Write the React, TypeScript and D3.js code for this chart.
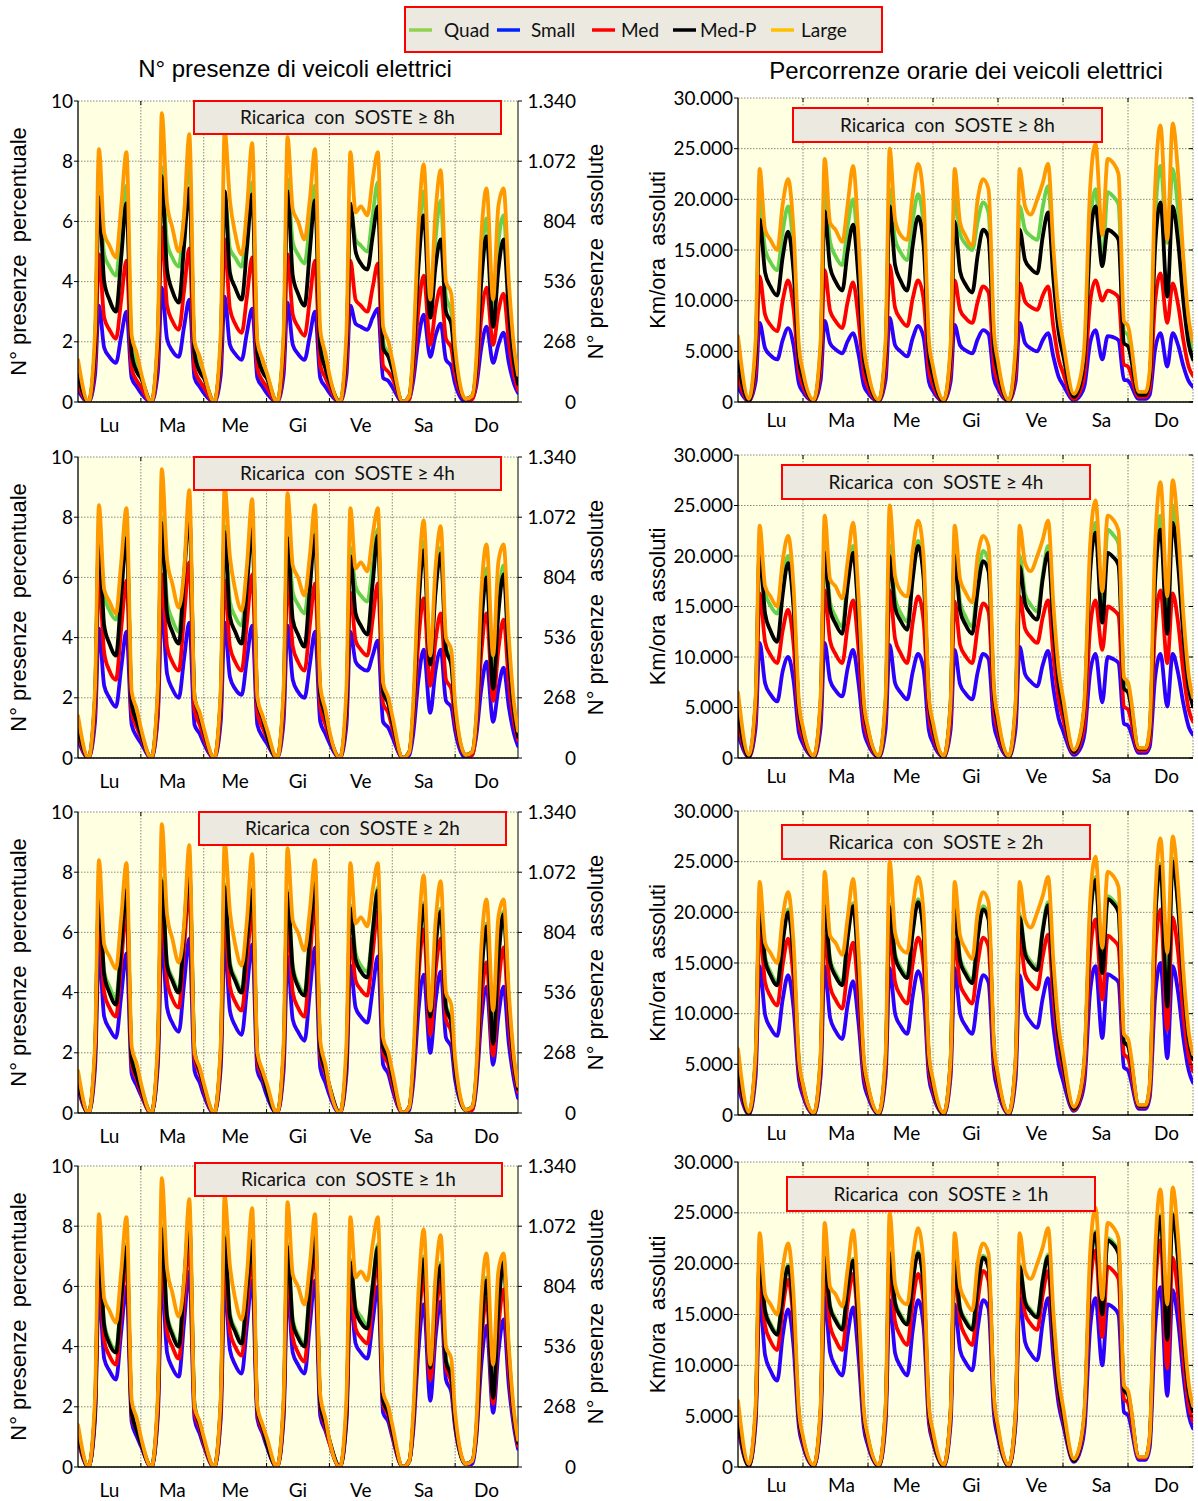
import React from "react";
import * as d3 from "d3";

// hours of the day at which each series was read; one extra value closes Sunday (168h)
const HOURS = [0, 4, 6.5, 8, 10, 12, 14.5, 16.5, 18.5, 20.5, 22.5];
const DAYS = ["Lu", "Ma", "Me", "Gi", "Ve", "Sa", "Do"];
const SERIES = ["Quad", "Small", "Med", "Med-P", "Large"];
const SOSTE = ["8h", "4h", "2h", "1h"];
const PRES_TICKS = [0, 2, 4, 6, 8, 10];
const PRES_ABS_TICKS = [0, 268, 536, 804, 1072, 1340];
const KM_TICKS = [0, 5, 10, 15, 20, 25, 30]; // thousands of km

const LINE_COLORS = ["#66d24b", "#2c00ff", "#ff0000", "#000000", "#ff9900"];
const LEGEND_COLORS = ["#92d050", "#0022ff", "#ff0000", "#000000", "#ffc000"];

// ---- N° presenze (percent) ----
const P_LARGE = [
  1.4, 0.0, 2.3, 8.4, 5.6, 5.2, 4.8, 6.5, 8.3, 2.2, 1.6,
  1.0, 0.0, 2.4, 9.6, 6.6, 5.8, 5.0, 6.2, 8.9, 2.0, 1.5,
  1.0, 0.0, 2.3, 9.0, 6.7, 5.6, 4.9, 6.4, 8.6, 2.0, 1.4,
  1.0, 0.0, 2.3, 8.8, 6.4, 6.0, 5.4, 6.7, 8.4, 2.4, 1.6,
  0.9, 0.0, 2.3, 8.3, 6.3, 6.5, 6.2, 7.4, 8.3, 2.5, 2.0,
  1.4, 0.0, 0.2, 1.8, 5.8, 7.9, 3.4, 6.3, 7.7, 4.0, 3.6,
  1.8, 0.1, 0.2, 1.3, 5.5, 7.1, 3.4, 6.5, 7.1, 4.0, 1.8,
  0.9,
];

const P8_QUAD = [
  1.1, 0.0, 1.9, 7.0, 4.9, 4.5, 4.2, 5.7, 7.2, 1.8, 1.3,
  0.9, 0.0, 2.1, 7.8, 5.3, 4.8, 4.5, 6.2, 8.0, 1.7, 1.2,
  0.9, 0.0, 1.9, 7.0, 5.1, 4.8, 4.5, 5.9, 7.3, 1.6, 1.1,
  0.9, 0.0, 2.0, 7.4, 5.3, 4.9, 4.6, 5.9, 7.2, 1.9, 1.3,
  0.8, 0.0, 1.8, 6.5, 5.4, 5.2, 5.0, 6.2, 7.3, 2.0, 1.6,
  1.2, 0.0, 0.2, 1.6, 5.1, 7.0, 3.0, 5.4, 6.7, 3.5, 3.0,
  1.5, 0.1, 0.2, 1.1, 4.5, 6.1, 3.0, 5.3, 6.2, 3.4, 1.5,
  0.7,
];
const P8_SMALL = [
  0.4, 0.0, 0.9, 3.2, 1.8, 1.5, 1.3, 2.2, 3.0, 0.8, 0.5,
  0.3, 0.0, 1.0, 3.8, 2.1, 1.7, 1.5, 2.5, 3.4, 0.8, 0.5,
  0.3, 0.0, 0.9, 3.5, 1.9, 1.6, 1.4, 2.3, 3.1, 0.8, 0.5,
  0.3, 0.0, 0.9, 3.3, 1.9, 1.6, 1.4, 2.2, 3.0, 0.8, 0.5,
  0.3, 0.0, 0.9, 3.2, 2.6, 2.5, 2.4, 2.8, 3.1, 0.8, 0.7,
  0.5, 0.0, 0.1, 0.7, 2.1, 2.9, 1.5, 2.2, 2.6, 1.4, 1.2,
  0.6, 0.0, 0.1, 0.5, 1.8, 2.5, 1.3, 1.9, 2.3, 1.3, 0.6,
  0.3,
];
const P8_MED = [
  0.6, 0.0, 1.3, 4.9, 2.8, 2.4, 2.1, 3.4, 4.7, 1.1, 0.7,
  0.5, 0.0, 1.5, 5.8, 3.2, 2.7, 2.4, 3.7, 5.1, 1.1, 0.7,
  0.5, 0.0, 1.4, 5.4, 3.1, 2.6, 2.3, 3.5, 4.8, 1.1, 0.7,
  0.5, 0.0, 1.3, 4.9, 2.9, 2.5, 2.2, 3.4, 4.7, 1.2, 0.8,
  0.5, 0.0, 1.3, 4.7, 3.4, 3.2, 3.0, 3.8, 4.6, 1.2, 1.0,
  0.8, 0.0, 0.1, 1.0, 3.1, 4.2, 1.9, 3.1, 3.8, 2.1, 1.8,
  0.9, 0.1, 0.1, 0.7, 2.8, 3.8, 1.9, 3.0, 3.6, 2.0, 0.9,
  0.4,
];
const P8_MEDP = [
  0.9, 0.0, 1.8, 6.8, 4.0, 3.4, 3.0, 4.8, 6.6, 1.6, 1.0,
  0.8, 0.0, 2.0, 7.5, 4.4, 3.7, 3.3, 5.2, 7.1, 1.6, 1.0,
  0.8, 0.0, 1.9, 7.0, 4.3, 3.8, 3.4, 5.1, 6.9, 1.6, 1.0,
  0.8, 0.0, 1.9, 7.0, 4.2, 3.6, 3.2, 5.0, 6.7, 1.8, 1.1,
  0.7, 0.0, 1.8, 6.6, 5.0, 4.6, 4.4, 5.5, 6.5, 1.8, 1.5,
  1.1, 0.0, 0.2, 1.4, 4.5, 6.2, 2.8, 4.5, 5.4, 3.0, 2.6,
  1.3, 0.1, 0.2, 1.0, 4.0, 5.5, 2.5, 4.4, 5.4, 3.0, 1.3,
  0.6,
];

const P4_QUAD = [
  1.2, 0.0, 2.1, 7.6, 5.4, 4.9, 4.6, 6.1, 7.6, 1.9, 1.3,
  0.9, 0.0, 2.2, 8.0, 5.2, 4.6, 4.2, 6.2, 8.2, 2.0, 1.4,
  0.9, 0.0, 2.1, 7.7, 5.2, 4.7, 4.4, 6.1, 7.8, 1.9, 1.3,
  0.9, 0.0, 2.1, 7.7, 5.5, 5.1, 4.8, 6.2, 7.7, 2.2, 1.5,
  0.8, 0.0, 1.9, 7.0, 5.7, 5.4, 5.2, 6.4, 7.6, 2.3, 1.8,
  1.2, 0.0, 0.2, 1.6, 5.3, 7.2, 3.2, 5.7, 7.0, 3.7, 3.2,
  1.6, 0.1, 0.2, 1.2, 4.6, 6.3, 2.5, 5.1, 6.4, 3.5, 1.6,
  0.8,
];
const P4_SMALL = [
  0.6, 0.0, 1.2, 4.3, 2.4, 2.0, 1.7, 3.0, 4.2, 1.1, 0.7,
  0.5, 0.0, 1.4, 5.0, 2.8, 2.3, 2.0, 3.3, 4.5, 1.1, 0.8,
  0.5, 0.0, 1.2, 4.5, 2.7, 2.3, 2.1, 3.3, 4.4, 1.1, 0.7,
  0.5, 0.0, 1.2, 4.4, 2.6, 2.2, 2.0, 3.1, 4.2, 1.2, 0.8,
  0.5, 0.0, 1.1, 4.2, 3.2, 3.0, 2.9, 3.4, 3.9, 1.2, 1.0,
  0.7, 0.0, 0.1, 0.8, 2.6, 3.6, 1.5, 2.9, 3.6, 1.9, 1.7,
  0.9, 0.0, 0.1, 0.7, 2.3, 3.2, 1.2, 2.3, 3.0, 1.7, 0.8,
  0.4,
];
const P4_MED = [
  0.8, 0.0, 1.6, 6.0, 3.5, 2.9, 2.6, 4.3, 5.9, 1.5, 1.0,
  0.7, 0.0, 1.6, 6.1, 3.7, 3.2, 2.9, 4.7, 6.5, 1.6, 1.1,
  0.7, 0.0, 1.6, 5.9, 3.7, 3.2, 2.9, 4.5, 6.1, 1.5, 1.0,
  0.7, 0.0, 1.6, 6.1, 3.7, 3.2, 2.9, 4.4, 5.8, 1.7, 1.1,
  0.7, 0.0, 1.5, 5.5, 3.9, 3.6, 3.4, 4.6, 5.8, 1.8, 1.5,
  1.0, 0.0, 0.2, 1.2, 3.9, 5.3, 2.4, 3.9, 4.8, 2.6, 2.3,
  1.2, 0.1, 0.1, 0.9, 3.5, 4.8, 1.9, 3.6, 4.6, 2.5, 1.2,
  0.6,
];
const P4_MEDP = [
  1.0, 0.0, 2.0, 7.3, 4.4, 3.8, 3.4, 5.4, 7.3, 1.8, 1.2,
  0.8, 0.0, 2.1, 7.8, 4.8, 4.2, 3.8, 6.0, 8.1, 2.0, 1.4,
  0.9, 0.0, 2.0, 7.5, 4.7, 4.2, 3.8, 5.7, 7.6, 1.9, 1.3,
  0.8, 0.0, 2.0, 7.3, 4.6, 4.1, 3.7, 5.6, 7.4, 2.1, 1.4,
  0.8, 0.0, 1.8, 6.7, 4.8, 4.4, 4.1, 5.8, 7.4, 2.2, 1.8,
  1.2, 0.0, 0.2, 1.5, 5.0, 6.9, 3.1, 5.5, 6.8, 3.6, 3.1,
  1.5, 0.1, 0.2, 1.1, 4.4, 6.0, 2.3, 4.8, 6.1, 3.3, 1.5,
  0.7,
];

const P2_QUAD = [
  1.2, 0.0, 2.0, 7.4, 4.7, 4.2, 3.8, 5.7, 7.5, 1.9, 1.3,
  0.9, 0.0, 2.1, 7.8, 5.0, 4.5, 4.1, 6.2, 8.2, 2.1, 1.4,
  0.9, 0.0, 2.1, 7.6, 5.0, 4.5, 4.1, 5.8, 7.5, 1.9, 1.3,
  0.8, 0.0, 2.0, 7.4, 4.9, 4.3, 4.0, 5.9, 7.8, 2.2, 1.5,
  0.9, 0.0, 1.9, 6.9, 5.3, 4.9, 4.7, 6.1, 7.5, 2.3, 1.8,
  1.2, 0.0, 0.2, 1.5, 5.1, 7.0, 3.3, 5.6, 6.8, 3.6, 3.1,
  1.5, 0.1, 0.2, 1.2, 4.6, 6.3, 2.4, 5.2, 6.7, 3.7, 1.7,
  0.8,
];
const P2_SMALL = [
  0.8, 0.0, 1.5, 5.4, 3.2, 2.8, 2.5, 3.9, 5.3, 1.3, 0.9,
  0.6, 0.0, 1.6, 5.8, 3.5, 3.0, 2.7, 4.3, 5.8, 1.4, 1.0,
  0.6, 0.0, 1.5, 5.7, 3.4, 2.9, 2.6, 4.1, 5.6, 1.4, 1.0,
  0.6, 0.0, 1.4, 5.2, 3.1, 2.7, 2.4, 4.0, 5.5, 1.5, 1.0,
  0.6, 0.0, 1.3, 4.9, 3.5, 3.2, 3.0, 4.1, 5.2, 1.6, 1.3,
  0.8, 0.0, 0.1, 1.0, 3.4, 4.6, 2.0, 3.7, 4.7, 2.5, 2.2,
  1.1, 0.1, 0.1, 0.8, 3.1, 4.2, 1.6, 3.2, 4.2, 2.3, 1.1,
  0.5,
];
const P2_MED = [
  1.0, 0.0, 1.8, 6.5, 4.0, 3.5, 3.2, 5.0, 6.7, 1.6, 1.1,
  0.7, 0.0, 1.9, 6.9, 4.4, 3.8, 3.5, 5.5, 7.4, 1.8, 1.3,
  0.8, 0.0, 1.8, 6.6, 4.2, 3.7, 3.4, 5.0, 6.7, 1.7, 1.2,
  0.8, 0.0, 1.7, 6.4, 4.0, 3.5, 3.2, 5.1, 7.0, 1.9, 1.3,
  0.8, 0.0, 1.6, 5.8, 4.4, 4.1, 3.9, 5.3, 6.7, 2.0, 1.6,
  1.0, 0.0, 0.2, 1.3, 4.5, 6.1, 2.6, 4.7, 5.8, 3.1, 2.7,
  1.4, 0.1, 0.1, 1.0, 3.7, 5.0, 1.9, 4.2, 5.5, 3.0, 1.4,
  0.7,
];
const P2_MEDP = [
  1.1, 0.0, 2.0, 7.3, 4.6, 4.0, 3.6, 5.5, 7.4, 1.8, 1.2,
  0.8, 0.0, 2.1, 7.7, 4.9, 4.4, 4.0, 6.0, 8.1, 2.0, 1.4,
  0.9, 0.0, 2.0, 7.5, 4.9, 4.4, 4.0, 5.7, 7.4, 1.9, 1.3,
  0.8, 0.0, 2.0, 7.3, 4.8, 4.2, 3.9, 5.8, 7.7, 2.1, 1.4,
  0.9, 0.0, 1.8, 6.8, 5.1, 4.7, 4.5, 6.0, 7.4, 2.2, 1.8,
  1.2, 0.0, 0.2, 1.5, 5.0, 6.9, 3.2, 5.5, 6.7, 3.5, 3.0,
  1.5, 0.1, 0.2, 1.1, 4.5, 6.2, 2.3, 5.1, 6.6, 3.6, 1.6,
  0.8,
];

const P1_QUAD = [
  1.2, 0.0, 2.0, 7.3, 4.8, 4.2, 3.9, 5.7, 7.4, 1.9, 1.3,
  0.9, 0.0, 2.2, 8.0, 5.1, 4.5, 4.1, 6.2, 8.2, 2.1, 1.4,
  0.9, 0.0, 2.1, 7.7, 5.1, 4.6, 4.2, 5.9, 7.6, 1.9, 1.3,
  0.8, 0.0, 2.0, 7.4, 4.9, 4.4, 4.1, 6.0, 7.9, 2.2, 1.5,
  0.9, 0.0, 1.9, 6.9, 5.3, 5.0, 4.7, 6.1, 7.4, 2.3, 1.8,
  1.2, 0.0, 0.2, 1.5, 5.1, 7.0, 3.4, 5.6, 6.8, 3.6, 3.1,
  1.5, 0.1, 0.2, 1.2, 4.6, 6.3, 2.4, 5.3, 6.9, 3.8, 1.7,
  0.8,
];
const P1_SMALL = [
  0.9, 0.0, 1.6, 5.9, 3.6, 3.2, 2.9, 4.5, 6.0, 1.5, 1.0,
  0.7, 0.0, 1.7, 6.3, 3.8, 3.3, 3.0, 4.8, 6.5, 1.6, 1.1,
  0.7, 0.0, 1.6, 6.1, 3.9, 3.4, 3.1, 4.7, 6.2, 1.6, 1.1,
  0.7, 0.0, 1.6, 5.9, 3.8, 3.4, 3.1, 4.7, 6.2, 1.7, 1.2,
  0.8, 0.0, 1.5, 5.6, 4.1, 3.8, 3.6, 4.8, 6.0, 1.8, 1.5,
  1.0, 0.0, 0.2, 1.2, 3.9, 5.4, 2.2, 4.3, 5.5, 2.9, 2.5,
  1.3, 0.1, 0.1, 0.9, 3.4, 4.7, 1.8, 3.8, 4.9, 2.7, 1.3,
  0.6,
];
const P1_MED = [
  1.0, 0.0, 1.8, 6.6, 4.2, 3.7, 3.4, 5.1, 6.9, 1.7, 1.2,
  0.8, 0.0, 1.9, 7.2, 4.5, 4.0, 3.6, 5.5, 7.4, 1.8, 1.3,
  0.8, 0.0, 1.8, 6.8, 4.5, 4.0, 3.7, 5.3, 7.0, 1.8, 1.2,
  0.8, 0.0, 1.8, 6.7, 4.3, 3.8, 3.5, 5.4, 7.3, 2.0, 1.3,
  0.8, 0.0, 1.7, 6.2, 4.6, 4.3, 4.1, 5.5, 6.9, 2.1, 1.7,
  1.1, 0.0, 0.2, 1.4, 4.6, 6.3, 2.9, 4.9, 6.2, 3.3, 2.8,
  1.4, 0.1, 0.2, 1.0, 4.1, 5.6, 2.1, 4.6, 5.9, 3.2, 1.5,
  0.7,
];
const P1_MEDP = [
  1.1, 0.0, 1.9, 7.2, 4.7, 4.1, 3.8, 5.6, 7.3, 1.8, 1.2,
  0.8, 0.0, 2.1, 7.9, 5.0, 4.4, 4.0, 6.1, 8.1, 2.0, 1.4,
  0.9, 0.0, 2.1, 7.6, 5.0, 4.5, 4.1, 5.8, 7.5, 1.9, 1.3,
  0.8, 0.0, 2.0, 7.3, 4.8, 4.3, 4.0, 5.9, 7.8, 2.1, 1.4,
  0.9, 0.0, 1.8, 6.8, 5.2, 4.8, 4.6, 6.0, 7.3, 2.2, 1.8,
  1.2, 0.0, 0.2, 1.5, 5.0, 6.9, 3.3, 5.5, 6.7, 3.5, 3.0,
  1.5, 0.1, 0.2, 1.1, 4.5, 6.2, 2.3, 5.2, 6.8, 3.7, 1.6,
  0.8,
];

// ---- Percorrenze orarie (thousands of km/h) ----
const K_LARGE = [
  6.5, 0.3, 6.0, 23.0, 17.0, 16.0, 15.0, 19.5, 22.0, 17.0, 5.5,
  3.0, 0.2, 6.0, 24.0, 17.7, 17.0, 15.8, 19.5, 23.3, 16.0, 5.5,
  3.0, 0.2, 6.0, 25.0, 18.0, 16.5, 16.0, 20.5, 23.5, 20.0, 6.0,
  3.5, 0.2, 5.5, 23.0, 17.7, 16.4, 15.4, 20.0, 22.0, 21.0, 7.0,
  4.0, 0.2, 5.5, 23.0, 19.3, 18.5, 20.0, 21.6, 23.5, 15.0, 8.5,
  6.0, 0.8, 2.5, 6.0, 21.0, 25.5, 16.5, 24.0, 23.6, 22.5, 8.0,
  7.5, 1.0, 1.0, 3.0, 21.0, 27.3, 16.0, 27.5, 22.5, 14.0, 8.0,
  6.0,
];

const K8_QUAD = [
  5.0, 0.2, 5.2, 20.0, 15.1, 13.8, 13.0, 16.8, 19.3, 14.9, 4.8,
  2.6, 0.2, 5.5, 21.0, 15.8, 14.4, 13.5, 17.4, 20.0, 13.8, 4.8,
  2.6, 0.2, 5.5, 21.0, 16.1, 14.8, 14.0, 17.9, 20.5, 17.4, 5.3,
  2.9, 0.2, 5.3, 20.3, 16.6, 15.6, 15.0, 17.8, 19.7, 18.7, 6.3,
  3.5, 0.2, 5.0, 19.3, 17.0, 16.4, 16.0, 19.2, 21.3, 13.6, 7.7,
  5.4, 0.6, 2.1, 5.0, 17.2, 21.0, 13.7, 20.7, 20.3, 19.5, 7.0,
  6.6, 0.8, 0.8, 2.6, 17.9, 23.3, 15.7, 23.0, 18.9, 11.7, 6.7,
  5.1,
];
const K8_SMALL = [
  1.5, 0.1, 2.0, 7.8, 5.3, 4.6, 4.2, 6.1, 7.3, 5.6, 1.8,
  1.0, 0.1, 2.1, 8.0, 5.8, 5.2, 4.8, 6.0, 6.8, 4.7, 1.6,
  0.9, 0.1, 2.2, 8.3, 5.6, 5.0, 4.5, 6.3, 7.5, 6.4, 2.0,
  1.1, 0.1, 2.0, 7.6, 5.6, 5.1, 4.8, 6.2, 7.1, 6.7, 2.3,
  1.3, 0.1, 2.0, 7.8, 5.8, 5.3, 5.0, 6.1, 6.8, 4.4, 2.4,
  1.7, 0.2, 0.7, 1.7, 5.8, 7.1, 4.2, 6.5, 6.4, 6.1, 2.2,
  2.1, 0.3, 0.3, 0.7, 5.2, 6.8, 3.5, 6.8, 5.6, 3.5, 2.0,
  1.5,
];
const K8_MED = [
  2.5, 0.1, 3.2, 12.4, 8.6, 7.6, 7.0, 10.0, 12.0, 9.2, 3.0,
  1.6, 0.1, 3.4, 13.0, 9.0, 8.0, 7.3, 9.9, 11.8, 8.1, 2.8,
  1.5, 0.1, 3.5, 13.5, 9.3, 8.2, 7.5, 10.2, 12.0, 10.2, 3.1,
  1.7, 0.1, 3.1, 12.0, 9.1, 8.3, 7.8, 9.9, 11.4, 10.8, 3.6,
  2.0, 0.1, 3.0, 11.7, 9.9, 9.4, 9.1, 10.5, 11.4, 7.3, 4.1,
  2.9, 0.3, 1.2, 2.9, 9.8, 12.0, 10.0, 11.0, 10.8, 10.3, 3.7,
  3.5, 0.5, 0.5, 1.4, 9.8, 12.7, 7.8, 11.7, 9.6, 6.0, 3.4,
  2.6,
];
const K8_MEDP = [
  4.0, 0.1, 4.7, 18.0, 12.8, 11.4, 10.5, 14.3, 16.8, 12.9, 4.2,
  2.3, 0.1, 4.9, 18.8, 13.3, 11.9, 11.0, 14.9, 17.5, 12.1, 4.2,
  2.3, 0.1, 5.0, 19.3, 13.5, 12.0, 11.0, 15.4, 18.3, 15.6, 4.8,
  2.6, 0.1, 4.6, 17.8, 12.9, 11.6, 10.8, 14.5, 17.0, 16.2, 5.4,
  3.0, 0.1, 4.4, 17.0, 14.0, 13.2, 12.7, 16.3, 18.7, 12.0, 6.7,
  4.7, 0.5, 1.9, 4.6, 15.8, 19.3, 13.4, 17.0, 16.7, 16.0, 5.8,
  5.5, 0.7, 0.7, 2.2, 15.2, 19.7, 10.4, 19.3, 15.8, 9.8, 5.6,
  4.2,
];

const K4_QUAD = [
  5.4, 0.2, 5.5, 21.0, 16.4, 15.1, 14.3, 17.7, 20.0, 15.4, 5.0,
  2.8, 0.2, 5.5, 21.0, 15.4, 14.0, 13.0, 17.8, 21.0, 14.5, 5.0,
  2.8, 0.2, 5.5, 21.0, 15.8, 14.4, 13.5, 18.3, 21.5, 18.3, 5.6,
  3.1, 0.2, 5.5, 21.0, 15.4, 14.0, 13.0, 17.5, 20.5, 19.5, 6.6,
  3.6, 0.2, 5.2, 20.0, 16.2, 15.2, 14.5, 18.1, 21.0, 13.4, 7.6,
  5.3, 0.7, 2.3, 5.6, 19.1, 23.3, 15.0, 22.6, 22.1, 21.2, 7.7,
  7.2, 1.0, 1.0, 2.6, 18.5, 24.0, 14.0, 25.0, 20.5, 12.8, 7.3,
  5.5,
];
const K4_SMALL = [
  2.4, 0.1, 3.0, 11.4, 7.4, 6.3, 5.6, 8.6, 10.0, 7.7, 2.5,
  1.4, 0.1, 3.0, 11.4, 7.7, 6.7, 6.1, 8.9, 10.7, 7.4, 2.6,
  1.4, 0.1, 2.9, 11.2, 7.4, 6.5, 5.8, 8.5, 10.3, 8.8, 2.7,
  1.5, 0.1, 2.8, 10.7, 7.3, 6.4, 5.8, 8.5, 10.3, 9.8, 3.3,
  1.8, 0.1, 2.9, 11.0, 8.3, 7.6, 7.1, 9.2, 10.6, 6.8, 3.8,
  2.7, 0.3, 1.0, 2.5, 8.4, 10.3, 5.5, 10.0, 9.8, 9.4, 3.4,
  3.2, 0.5, 0.5, 1.1, 7.9, 10.3, 5.1, 10.3, 8.4, 5.3, 3.0,
  2.3,
];
const K4_MED = [
  3.5, 0.1, 4.2, 16.3, 11.5, 10.2, 9.4, 12.6, 14.7, 11.3, 3.7,
  2.0, 0.1, 4.3, 16.6, 11.6, 10.3, 9.4, 13.1, 15.6, 10.8, 3.7,
  2.0, 0.1, 4.5, 16.6, 11.8, 10.4, 9.4, 13.4, 16.0, 13.6, 4.2,
  2.3, 0.1, 4.0, 15.5, 11.2, 10.1, 9.4, 12.9, 15.3, 14.5, 4.9,
  2.7, 0.1, 4.2, 16.0, 12.8, 12.0, 11.4, 13.9, 15.6, 10.0, 5.6,
  3.9, 0.5, 1.6, 3.7, 12.8, 15.6, 10.7, 15.0, 14.7, 14.1, 5.1,
  4.8, 0.7, 0.7, 1.8, 12.8, 16.6, 9.4, 16.3, 13.4, 8.3, 4.7,
  3.6,
];
const K4_MEDP = [
  4.6, 0.1, 5.4, 20.6, 14.3, 12.6, 11.5, 16.2, 19.3, 14.9, 4.8,
  2.6, 0.1, 5.3, 20.3, 14.7, 13.3, 12.3, 17.1, 20.3, 14.0, 4.9,
  2.7, 0.1, 5.2, 20.0, 14.9, 13.6, 12.7, 17.7, 21.0, 17.9, 5.5,
  3.0, 0.1, 5.2, 20.0, 14.6, 13.2, 12.3, 16.6, 19.5, 18.5, 6.2,
  3.4, 0.1, 4.9, 19.0, 15.3, 14.3, 13.7, 17.7, 20.3, 13.0, 7.3,
  5.1, 0.6, 2.2, 5.4, 18.3, 22.3, 13.4, 20.3, 19.9, 19.1, 6.9,
  6.5, 0.9, 0.9, 2.5, 17.4, 22.6, 12.3, 23.3, 19.1, 11.9, 6.8,
  5.1,
];

const K2_QUAD = [
  5.0, 0.1, 5.6, 21.3, 15.6, 14.1, 13.1, 17.3, 20.3, 15.6, 5.1,
  2.9, 0.1, 5.5, 20.9, 15.4, 14.0, 13.1, 17.8, 20.9, 14.4, 5.0,
  2.8, 0.1, 5.4, 20.8, 15.9, 14.6, 13.8, 18.3, 21.3, 18.1, 5.6,
  3.1, 0.1, 5.4, 20.6, 15.5, 14.2, 13.3, 17.7, 20.6, 19.6, 6.6,
  3.7, 0.1, 5.2, 19.8, 16.2, 15.2, 14.6, 18.4, 21.0, 13.4, 7.6,
  5.3, 0.6, 2.3, 5.7, 19.3, 23.5, 14.3, 21.6, 21.2, 20.3, 7.3,
  6.9, 0.9, 0.9, 2.8, 19.2, 24.8, 11.0, 25.3, 20.7, 13.0, 7.4,
  5.6,
];
const K2_SMALL = [
  3.0, 0.1, 3.8, 14.7, 9.9, 8.6, 7.8, 11.4, 13.8, 10.6, 3.5,
  1.9, 0.1, 3.8, 14.7, 9.6, 8.3, 7.5, 10.9, 13.2, 9.1, 3.2,
  1.8, 0.1, 3.8, 14.5, 10.0, 8.8, 8.0, 11.7, 14.2, 12.1, 3.7,
  2.0, 0.1, 3.8, 14.5, 10.0, 8.8, 8.0, 11.5, 13.8, 13.1, 4.4,
  2.4, 0.1, 3.6, 13.8, 10.2, 9.2, 8.6, 11.5, 13.5, 8.6, 4.9,
  3.4, 0.4, 1.5, 3.5, 12.1, 14.7, 7.6, 13.9, 13.6, 13.1, 4.7,
  4.4, 0.6, 0.6, 1.7, 11.6, 15.0, 5.6, 14.7, 12.1, 7.5, 4.3,
  3.2,
];
const K2_MED = [
  4.0, 0.1, 4.8, 18.4, 13.1, 11.7, 10.8, 14.8, 17.4, 13.4, 4.4,
  2.4, 0.1, 4.6, 17.7, 12.7, 11.4, 10.5, 14.4, 17.0, 11.7, 4.1,
  2.3, 0.1, 4.7, 18.0, 13.1, 11.8, 11.0, 14.9, 17.5, 14.9, 4.6,
  2.5, 0.1, 4.5, 17.3, 12.9, 11.8, 11.0, 15.0, 17.5, 16.6, 5.6,
  3.1, 0.1, 4.6, 17.5, 13.9, 13.0, 12.4, 15.6, 17.8, 11.4, 6.4,
  4.5, 0.5, 1.9, 4.6, 15.8, 19.3, 11.4, 17.7, 17.3, 16.6, 6.0,
  5.6, 0.8, 0.8, 2.2, 15.6, 20.3, 8.4, 19.5, 16.0, 9.9, 5.7,
  4.3,
];
const K2_MEDP = [
  4.8, 0.1, 5.5, 21.0, 15.3, 13.8, 12.8, 17.0, 20.0, 15.4, 5.0,
  2.8, 0.1, 5.4, 20.6, 15.1, 13.7, 12.8, 17.5, 20.6, 14.2, 4.9,
  2.7, 0.1, 5.3, 20.5, 15.6, 14.3, 13.5, 18.0, 21.0, 17.9, 5.5,
  3.0, 0.1, 5.3, 20.3, 15.2, 13.9, 13.0, 17.4, 20.3, 19.3, 6.5,
  3.6, 0.1, 5.1, 19.5, 15.9, 14.9, 14.3, 18.1, 20.7, 13.2, 7.5,
  5.2, 0.6, 2.3, 5.6, 19.0, 23.2, 14.0, 21.3, 20.9, 20.0, 7.2,
  6.8, 0.9, 0.9, 2.7, 18.9, 24.5, 10.7, 25.0, 20.5, 12.8, 7.3,
  5.5,
];

const K1_QUAD = [
  5.0, 0.1, 5.4, 20.7, 15.5, 14.1, 13.2, 17.0, 19.9, 15.3, 5.0,
  2.8, 0.1, 5.5, 20.8, 15.9, 14.6, 13.7, 17.8, 20.5, 14.1, 5.0,
  2.8, 0.1, 5.6, 21.2, 16.3, 15.0, 14.2, 18.4, 21.2, 18.0, 5.6,
  3.1, 0.1, 5.4, 20.5, 15.7, 14.5, 13.7, 18.0, 20.8, 19.8, 6.7,
  3.7, 0.1, 5.2, 19.9, 16.4, 15.5, 14.9, 18.5, 20.9, 13.4, 7.6,
  5.3, 0.6, 2.3, 5.6, 19.1, 23.2, 15.2, 22.5, 22.1, 21.2, 7.7,
  7.2, 1.0, 1.0, 2.8, 19.1, 24.8, 12.7, 25.0, 20.5, 12.7, 7.3,
  5.6,
];
const K1_SMALL = [
  3.9, 0.1, 4.3, 16.6, 11.0, 9.5, 8.5, 12.9, 15.5, 11.9, 3.9,
  2.1, 0.1, 4.3, 16.7, 11.3, 9.9, 9.0, 13.0, 15.7, 10.8, 3.8,
  2.1, 0.1, 4.3, 16.4, 11.2, 9.9, 9.0, 13.4, 16.4, 13.9, 4.3,
  2.4, 0.1, 4.2, 16.0, 11.5, 10.3, 9.5, 13.6, 16.4, 15.6, 5.2,
  2.9, 0.1, 4.3, 16.6, 12.3, 11.2, 10.5, 14.2, 16.6, 10.6, 6.0,
  4.2, 0.5, 1.7, 4.0, 13.6, 16.6, 10.0, 16.0, 15.7, 15.0, 5.4,
  5.1, 0.7, 0.7, 1.9, 13.6, 17.7, 7.0, 17.4, 14.3, 8.9, 5.0,
  3.8,
];
const K1_MED = [
  4.5, 0.1, 4.9, 19.0, 13.9, 12.4, 11.5, 15.6, 18.4, 14.2, 4.6,
  2.5, 0.1, 5.1, 19.5, 13.9, 12.5, 11.5, 16.1, 19.0, 13.1, 4.6,
  2.5, 0.1, 5.1, 19.7, 14.3, 12.9, 12.0, 16.2, 19.0, 16.2, 4.9,
  2.7, 0.1, 5.1, 19.5, 14.3, 12.9, 12.0, 16.3, 19.3, 18.3, 6.2,
  3.4, 0.1, 4.9, 18.7, 15.1, 14.1, 13.5, 16.9, 19.3, 12.4, 6.9,
  4.8, 0.6, 2.1, 5.1, 17.5, 21.3, 12.8, 19.7, 19.3, 18.5, 6.7,
  6.3, 0.9, 0.9, 2.5, 17.2, 22.3, 9.7, 20.6, 16.9, 10.5, 6.0,
  4.5,
];
const K1_MEDP = [
  4.9, 0.1, 5.3, 20.5, 15.3, 13.9, 13.0, 16.8, 19.7, 15.2, 4.9,
  2.7, 0.1, 5.4, 20.6, 15.7, 14.4, 13.5, 17.6, 20.3, 14.0, 4.9,
  2.7, 0.1, 5.5, 21.0, 16.1, 14.8, 14.0, 18.2, 21.0, 17.9, 5.5,
  3.0, 0.1, 5.3, 20.3, 15.5, 14.3, 13.5, 17.8, 20.6, 19.6, 6.6,
  3.6, 0.1, 5.1, 19.7, 16.2, 15.3, 14.7, 18.3, 20.7, 13.2, 7.5,
  5.2, 0.6, 2.3, 5.5, 18.9, 23.0, 15.0, 22.3, 21.9, 21.0, 7.6,
  7.1, 1.0, 1.0, 2.7, 18.9, 24.6, 12.5, 24.8, 20.3, 12.6, 7.2,
  5.5,
];

// series order matches SERIES: Quad, Small, Med, Med-P, Large
const PRES_DATA = [
  [P8_QUAD, P8_SMALL, P8_MED, P8_MEDP, P_LARGE],
  [P4_QUAD, P4_SMALL, P4_MED, P4_MEDP, P_LARGE],
  [P2_QUAD, P2_SMALL, P2_MED, P2_MEDP, P_LARGE],
  [P1_QUAD, P1_SMALL, P1_MED, P1_MEDP, P_LARGE],
];
const KM_DATA = [
  [K8_QUAD, K8_SMALL, K8_MED, K8_MEDP, K_LARGE],
  [K4_QUAD, K4_SMALL, K4_MED, K4_MEDP, K_LARGE],
  [K2_QUAD, K2_SMALL, K2_MED, K2_MEDP, K_LARGE],
  [K1_QUAD, K1_SMALL, K1_MED, K1_MEDP, K_LARGE],
];

const it = d3.formatLocale({ decimal: ",", thousands: ".", grouping: [3], currency: ["€", ""] });
const fmtInt = it.format(",d");

const CALIBRI = "Lato, 'Open Sans', sans-serif";
const ARIAL = "'Liberation Sans', Arial, sans-serif";
const PRE = { whiteSpace: "pre" as const };

const timeOf = (i: number) => (i === 77 ? 168 : Math.floor(i / 11) * 24 + HOURS[i % 11]);

type PanelProps = {
  id: string;
  x0: number;
  x1: number;
  top: number;
  bottom: number;
  kind: "pres" | "km";
  data: number[][];
  soste: string;
  box: { x: number; y: number; w: number; h: number };
};

function Panel({ id, x0, x1, top, bottom, kind, data, soste, box }: PanelProps) {
  const x = d3.scaleLinear().domain([0, 168]).range([x0, x1]);
  const y = d3.scaleLinear().domain([0, kind === "pres" ? 10 : 30]).range([bottom, top]);
  const yAbs = d3.scaleLinear().domain([0, 1340]).range([bottom, top]);
  const ticks = kind === "pres" ? PRES_TICKS : KM_TICKS;
  const edges = d3.range(1, 7).map((d) => d * 24);
  const line = d3
    .line<number>()
    .x((_, i) => x(timeOf(i)))
    .y((v) => y(v))
    .curve(d3.curveMonotoneX);
  const midY = (top + bottom) / 2;
  const labelShift = kind === "pres" ? 0 : 6;
  const labelDy = kind === "pres" ? 23 : 18;

  return (
    <g>
      <defs>
        <clipPath id={id}>
          <rect x={x0} y={top - 2} width={x1 - x0} height={bottom - top + 2} />
        </clipPath>
      </defs>
      <rect x={x0} y={top} width={x1 - x0} height={bottom - top} fill="#ffffe1" />

      {/* grid */}
      {ticks.map((t) => (
        <line key={"h" + t} x1={x0} x2={x1} y1={y(t)} y2={y(t)} stroke="#7a7a7a" strokeWidth={0.9} strokeDasharray="1.5 1.5" />
      ))}
      {edges.map((e) => (
        <line key={"v" + e} x1={x(e)} x2={x(e)} y1={top} y2={bottom} stroke="#7a7a7a" strokeWidth={0.9} strokeDasharray="1.5 1.5" />
      ))}
      <line x1={x1} x2={x1} y1={top} y2={bottom} stroke={kind === "pres" ? "#000" : "#7a7a7a"} strokeWidth={kind === "pres" ? 1 : 0.9} strokeDasharray={kind === "pres" ? undefined : "1.5 1.5"} />

      {/* series */}
      <g clipPath={`url(#${id})`}>
        {data.map((vals, i) => (
          <path key={SERIES[i]} d={line(vals) || ""} fill="none" stroke={LINE_COLORS[i]} strokeWidth={3.8} strokeLinejoin="round" strokeLinecap="round" />
        ))}
      </g>

      {/* axes */}
      <line x1={x0} x2={x0} y1={top} y2={bottom} stroke="#000" strokeWidth={1.3} />
      <line x1={x0} x2={x1} y1={bottom} y2={bottom} stroke="#000" strokeWidth={1.3} />
      {edges.map((e) => (
        <g key={"t" + e}>
          <line x1={x(e)} x2={x(e)} y1={top} y2={top + 4} stroke="#000" />
          <line x1={x(e)} x2={x(e)} y1={bottom} y2={bottom - 4} stroke="#000" />
        </g>
      ))}
      {ticks.map((t) => (
        <g key={"l" + t}>
          <line x1={x0 - 4} x2={x0} y1={y(t)} y2={y(t)} stroke="#000" />
          <line x1={x1} x2={kind === "pres" ? x1 + 4 : x1 - 4} y1={y(t)} y2={y(t)} stroke="#000" />
          <text x={x0 - 5} y={y(t)} dy="0.35em" textAnchor="end" fontFamily={CALIBRI} fontSize={19} fill="#000">
            {kind === "pres" ? t : fmtInt(t * 1000)}
          </text>
        </g>
      ))}
      {kind === "pres" &&
        PRES_ABS_TICKS.map((t) => (
          <text key={"r" + t} x={x1 + 58} y={yAbs(t)} dy="0.35em" textAnchor="end" fontFamily={CALIBRI} fontSize={19} fill="#000">
            {fmtInt(t)}
          </text>
        ))}

      {DAYS.map((d, i) => (
        <text key={d} x={x(i * 24 + 12) + labelShift} y={bottom + labelDy} dy="0.35em" textAnchor="middle" fontFamily={CALIBRI} fontSize={19} fill="#000">
          {d}
        </text>
      ))}

      {/* axis titles */}
      {kind === "pres" ? (
        <>
          <text transform={`translate(18,${midY}) rotate(-90)`} dy="0.35em" textAnchor="middle" fontFamily={ARIAL} fontSize={22} style={PRE} fill="#000">
            {"N° presenze  percentuale"}
          </text>
          <text transform={`translate(${x1 + 77},${midY}) rotate(-90)`} dy="0.35em" textAnchor="middle" fontFamily={ARIAL} fontSize={22} style={PRE} fill="#000">
            {"N° presenze  assolute"}
          </text>
        </>
      ) : (
        <text transform={`translate(${x0 - 81},${midY}) rotate(-90)`} dy="0.35em" textAnchor="middle" fontFamily={ARIAL} fontSize={22} style={PRE} fill="#000">
          {"Km/ora  assoluti"}
        </text>
      )}

      {/* scenario box */}
      <rect x={box.x} y={box.y} width={box.w} height={box.h} fill="#ece9e1" stroke="#ff0000" strokeWidth={2} />
      <text x={box.x + box.w / 2} y={box.y + box.h / 2} dy="0.35em" textAnchor="middle" fontFamily={CALIBRI} fontSize={19} style={PRE} fill="#111">
        {`Ricarica  con  SOSTE ≥ ${soste}`}
      </text>
    </g>
  );
}

function Legend() {
  const items = [
    { lx: 409, tx: 444 },
    { lx: 497, tx: 531 },
    { lx: 592, tx: 621 },
    { lx: 673, tx: 700 },
    { lx: 771, tx: 801 },
  ];
  return (
    <g>
      <rect x={405} y={7} width={477} height={45} fill="#ece9e1" stroke="#ff0000" strokeWidth={2} />
      {SERIES.map((s, i) => (
        <g key={s}>
          <line x1={items[i].lx} x2={items[i].lx + 23} y1={30} y2={30} stroke={LEGEND_COLORS[i]} strokeWidth={3.5} />
          <text x={items[i].tx} y={30} dy="0.35em" fontFamily={CALIBRI} fontSize={19} fill="#111">
            {s}
          </text>
        </g>
      ))}
    </g>
  );
}

const LEFT_ROWS = [
  [101, 402],
  [457, 758],
  [812, 1113],
  [1166, 1467],
];
const RIGHT_ROWS = [
  [98, 402],
  [455, 758],
  [811, 1115],
  [1162, 1467],
];
const LEFT_BOXES = [
  { x: 194, y: 101, w: 307, h: 33 },
  { x: 194, y: 457, w: 307, h: 33 },
  { x: 199, y: 812, w: 307, h: 33 },
  { x: 195, y: 1163, w: 307, h: 33 },
];
const RIGHT_BOXES = [
  { x: 793, y: 108, w: 309, h: 34 },
  { x: 782, y: 465, w: 308, h: 34 },
  { x: 782, y: 825, w: 308, h: 34 },
  { x: 787, y: 1177, w: 308, h: 34 },
];

export default function App() {
  return (
    <svg width={1198} height={1501} style={{ position: "absolute", left: 0, top: 0, background: "#fff" }}>
      <rect width={1198} height={1501} fill="#fff" />
      <Legend />
      <text x={295} y={69} dy="0.35em" textAnchor="middle" fontFamily={ARIAL} fontSize={24} fill="#000">
        N° presenze di veicoli elettrici
      </text>
      <text x={966} y={71} dy="0.35em" textAnchor="middle" fontFamily={ARIAL} fontSize={24} fill="#000">
        Percorrenze orarie dei veicoli elettrici
      </text>
      {SOSTE.map((s, r) => (
        <g key={s}>
          <Panel id={`clipP${r}`} x0={78} x1={518} top={LEFT_ROWS[r][0]} bottom={LEFT_ROWS[r][1]} kind="pres" data={PRES_DATA[r]} soste={s} box={LEFT_BOXES[r]} />
          <Panel id={`clipK${r}`} x0={738} x1={1193} top={RIGHT_ROWS[r][0]} bottom={RIGHT_ROWS[r][1]} kind="km" data={KM_DATA[r]} soste={s} box={RIGHT_BOXES[r]} />
        </g>
      ))}
    </svg>
  );
}
